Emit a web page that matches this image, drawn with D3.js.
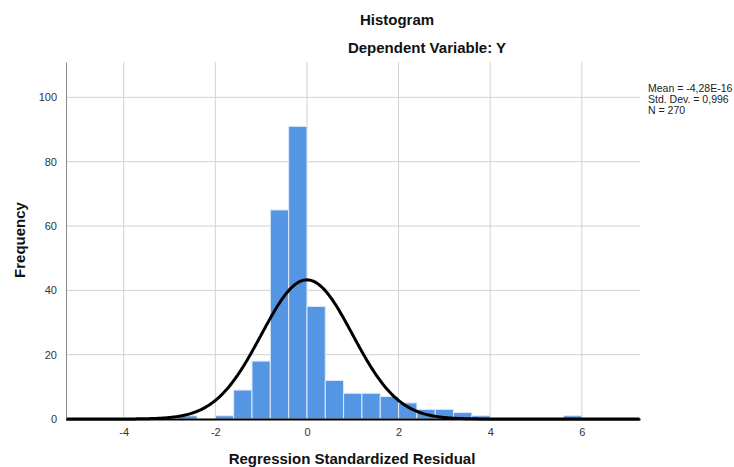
<!DOCTYPE html>
<html><head><meta charset="utf-8">
<script src="https://cdn.jsdelivr.net/npm/d3@7"></script>
<style>body{margin:0;background:#fff}svg{display:block}text{font-family:"Liberation Sans",Arial,sans-serif}</style>
</head><body>
<svg id="c" width="734" height="467"></svg>
<script>
// Bin lower edges (width 0.4) and frequencies
const binStarts = [-2.8, -2.4, -2.0, -1.6, -1.2, -0.8, -0.4, 0.0, 0.4, 0.8, 1.2, 1.6, 2.0, 2.4, 2.8, 3.2, 3.6, 5.6];
const binCounts = [1, 0, 1, 9, 18, 65, 91, 35, 12, 8, 8, 7, 5, 3, 3, 2, 1, 1];
const binWidth = 0.4;
const xTicks = [-4, -2, 0, 2, 4, 6];
const yTicks = [0, 20, 40, 60, 80, 100];
const stats = {mean: -4.28e-16, sd: 0.996, n: 270};
const legendLines = ["Mean = -4,28E-16", "Std. Dev. = 0,996", "N = 270"];
const titleText = "Histogram";
const subtitleText = "Dependent Variable: Y";
const xLabel = "Regression Standardized Residual";
const yLabel = "Frequency";

const svg = d3.select("#c");
const L = 66, R = 640, T = 62, B = 419;
const x = d3.scaleLinear().domain([-5.26, 7.27]).range([L, R]);
const y = d3.scaleLinear().domain([0, 111]).range([B, T]);

// gridlines
svg.append("g").selectAll("line").data(yTicks.filter(d => d > 0)).join("line")
  .attr("x1", L).attr("x2", R).attr("y1", d => y(d)).attr("y2", d => y(d))
  .attr("stroke", "#d2d2d2").attr("stroke-width", 1);
svg.append("g").selectAll("line").data(xTicks).join("line")
  .attr("x1", d => x(d)).attr("x2", d => x(d)).attr("y1", T).attr("y2", B)
  .attr("stroke", "#d2d2d2").attr("stroke-width", 1);

// bars
svg.append("g").selectAll("rect").data(binStarts.map((s, i) => ({s, c: binCounts[i]})).filter(d => d.c > 0)).join("rect")
  .attr("x", d => x(d.s)).attr("width", d => x(d.s + binWidth) - x(d.s))
  .attr("y", d => y(d.c)).attr("height", d => y(0) - y(d.c))
  .attr("fill", "#5596e4").attr("stroke", "#dfe9f7").attr("stroke-width", 1);

// normal curve
const pts = d3.range(-5.26, 7.2701, 0.02).map(v => [v,
  stats.n * binWidth / (stats.sd * Math.sqrt(2 * Math.PI)) * Math.exp(-0.5 * ((v - stats.mean) / stats.sd) ** 2)]);
svg.append("path").datum(pts)
  .attr("d", d3.line().x(d => x(d[0])).y(d => y(d[1])))
  .attr("fill", "none").attr("stroke", "#000").attr("stroke-width", 3);

// axes
const ya = svg.append("g").attr("transform", `translate(${L},0)`)
  .call(d3.axisLeft(y).tickValues(yTicks).tickSize(0).tickPadding(9).tickFormat(d => String(d)));
ya.select(".domain").attr("stroke", "#888");
ya.selectAll("text").attr("font-size", 11).attr("fill", "#333").style("font-family", '"Liberation Sans",Arial,sans-serif');
const xa = svg.append("g").attr("transform", `translate(0,${B})`)
  .call(d3.axisBottom(x).tickValues(xTicks).tickSize(0).tickPadding(9).tickFormat(d => String(d)));
xa.select(".domain").attr("stroke", "#000").attr("stroke-width", 2);
xa.selectAll("text").attr("font-size", 11).attr("fill", "#333").style("font-family", '"Liberation Sans",Arial,sans-serif');

// titles
svg.append("text").attr("x", 397).attr("y", 25).attr("text-anchor", "middle")
  .attr("font-size", 15).attr("font-weight", "bold").attr("fill", "#111").text(titleText);
svg.append("text").attr("x", 427).attr("y", 53).attr("text-anchor", "middle")
  .attr("font-size", 15).attr("font-weight", "bold").attr("fill", "#111").text(subtitleText);
svg.append("text").attr("x", 352).attr("y", 464).attr("text-anchor", "middle")
  .attr("font-size", 15).attr("font-weight", "bold").attr("fill", "#111").text(xLabel);
svg.append("text").attr("transform", `translate(25,240) rotate(-90)`).attr("text-anchor", "middle")
  .attr("font-size", 15).attr("font-weight", "bold").attr("fill", "#111").text(yLabel);

// legend
svg.append("g").selectAll("text").data(legendLines).join("text")
  .attr("x", 648).attr("y", (d, i) => 92 + i * 11)
  .attr("font-size", 10.5).attr("fill", "#222").text(d => d);
</script>
</body></html>
